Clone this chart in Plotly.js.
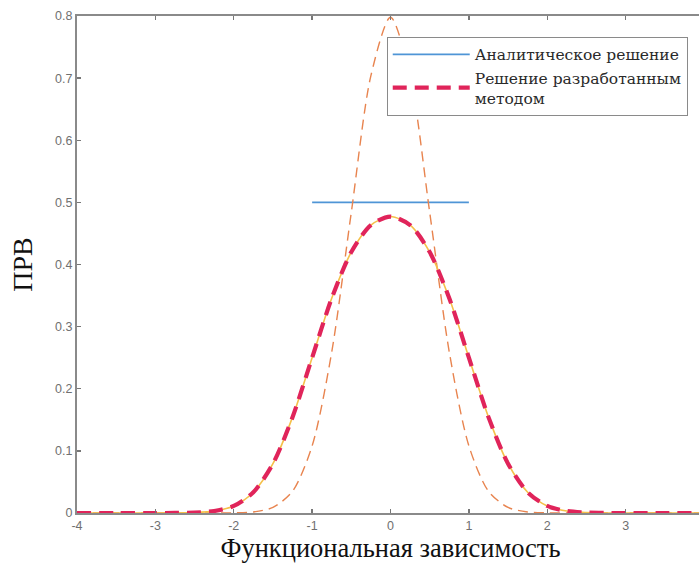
<!DOCTYPE html>
<html>
<head>
<meta charset="utf-8">
<script src="https://cdn.plot.ly/plotly-3.0.1.min.js"></script>
<style>
html,body{margin:0;padding:0;overflow:hidden;background:#fff;}
#chart{width:710px;height:563px;}
</style>
</head>
<body>
<div id="chart"></div>
<script>
// Analytic solution (uniform density on [-1, 1])
const analyticX = [-1, 1];
const analyticY = [0.5, 0.5];

// Narrow gaussian component (thin orange dashed)
const narrowX = [-4, -3, -2.5, -2.25, -2, -1.75, -1.5, -1.25, -1, -0.75, -0.5, -0.25, 0, 0.25, 0.5, 0.75, 1, 1.25, 1.5, 1.75, 2, 2.25, 2.5, 3, 4];
const narrowY = [0, 0, 0, 0, 0.0003, 0.0017, 0.0089, 0.035, 0.108, 0.259, 0.484, 0.704, 0.798, 0.704, 0.484, 0.259, 0.108, 0.035, 0.0089, 0.0017, 0.0003, 0, 0, 0, 0];

// Method solution (thick red dashed) and its reference (thin yellow)
const methodX = [-4, -3.5, -3, -2.75, -2.5, -2.25, -2, -1.75, -1.5, -1.25, -1, -0.75, -0.5, -0.25, 0, 0.25, 0.5, 0.75, 1, 1.25, 1.5, 1.75, 2, 2.25, 2.5, 2.75, 3, 3.5, 4];
const methodY = [0, 0, 0, 0.0001, 0.0007, 0.0031, 0.0114, 0.0334, 0.0793, 0.1543, 0.25, 0.3456, 0.42, 0.4635, 0.4772, 0.4635, 0.42, 0.3456, 0.25, 0.1543, 0.0793, 0.0334, 0.0114, 0.0031, 0.0007, 0.0001, 0, 0, 0];

const xTickVals = [-4, -3, -2, -1, 0, 1, 2, 3];
const xTickText = ['-4', '-3', '-2', '-1', '0', '1', '2', '3'];
const yTickVals = [0, 0.1, 0.2, 0.3, 0.4, 0.5, 0.6, 0.7, 0.8];
const yTickText = ['0', '0.1', '0.2', '0.3', '0.4', '0.5', '0.6', '0.7', '0.8'];

const legendNames = ['Аналитическое решение', 'Решение разработанным<br>методом'];

const serif = 'Liberation Serif, Times New Roman, serif';

const traces = [
  {x: analyticX, y: analyticY, mode: 'lines', name: legendNames[0],
   line: {color: '#4f95d6', width: 1.8}},
  {x: narrowX, y: narrowY, mode: 'lines', showlegend: false,
   line: {color: '#e8844f', width: 1.4, dash: '10px,6px', shape: 'spline', smoothing: 0.8}},
  {x: methodX, y: methodY, mode: 'lines', showlegend: false,
   line: {color: '#f5c04a', width: 1.6, shape: 'spline', smoothing: 0.8}},
  {x: methodX, y: methodY, mode: 'lines', name: legendNames[1],
   line: {color: '#e0245a', width: 4.2, dash: '14px,8px', shape: 'spline', smoothing: 0.8}}
];

const axisCommon = {
  showgrid: false, zeroline: false, showline: true, mirror: 'ticks',
  linecolor: '#8a8a8a', linewidth: 2, ticks: 'inside', ticklen: 4,
  tickcolor: '#777', tickwidth: 1.3,
  tickfont: {family: 'Liberation Sans, Arial, sans-serif', size: 12.5, color: '#707070'}
};

const layout = {
  width: 710, height: 563,
  margin: {l: 77, r: 6, t: 16, b: 50},
  paper_bgcolor: '#fff', plot_bgcolor: '#fff',
  showlegend: true,
  legend: {
    x: 0.494, y: 0.958, xanchor: 'left', yanchor: 'top',
    bgcolor: '#fff', bordercolor: '#8a8a8a', borderwidth: 1,
    itemwidth: 77,
    font: {family: 'DejaVu Serif, serif', size: 15.5, color: '#2a2a2a'},
    tracegroupgap: 0
  },
  xaxis: Object.assign({}, axisCommon, {
    range: [-4, 4], tickmode: 'array', tickvals: xTickVals, ticktext: xTickText,
    title: {text: 'Функциональная зависимость', standoff: 4,
            font: {family: serif, size: 26.5, color: '#111'}}
  }),
  yaxis: Object.assign({}, axisCommon, {
    range: [0, 0.8], tickmode: 'array', tickvals: yTickVals, ticktext: yTickText,
    title: {text: 'ПРВ', standoff: 14,
            font: {family: serif, size: 28, color: '#111'}}
  })
};

Plotly.newPlot('chart', traces, layout, {displayModeBar: false, staticPlot: true});
</script>
</body>
</html>
